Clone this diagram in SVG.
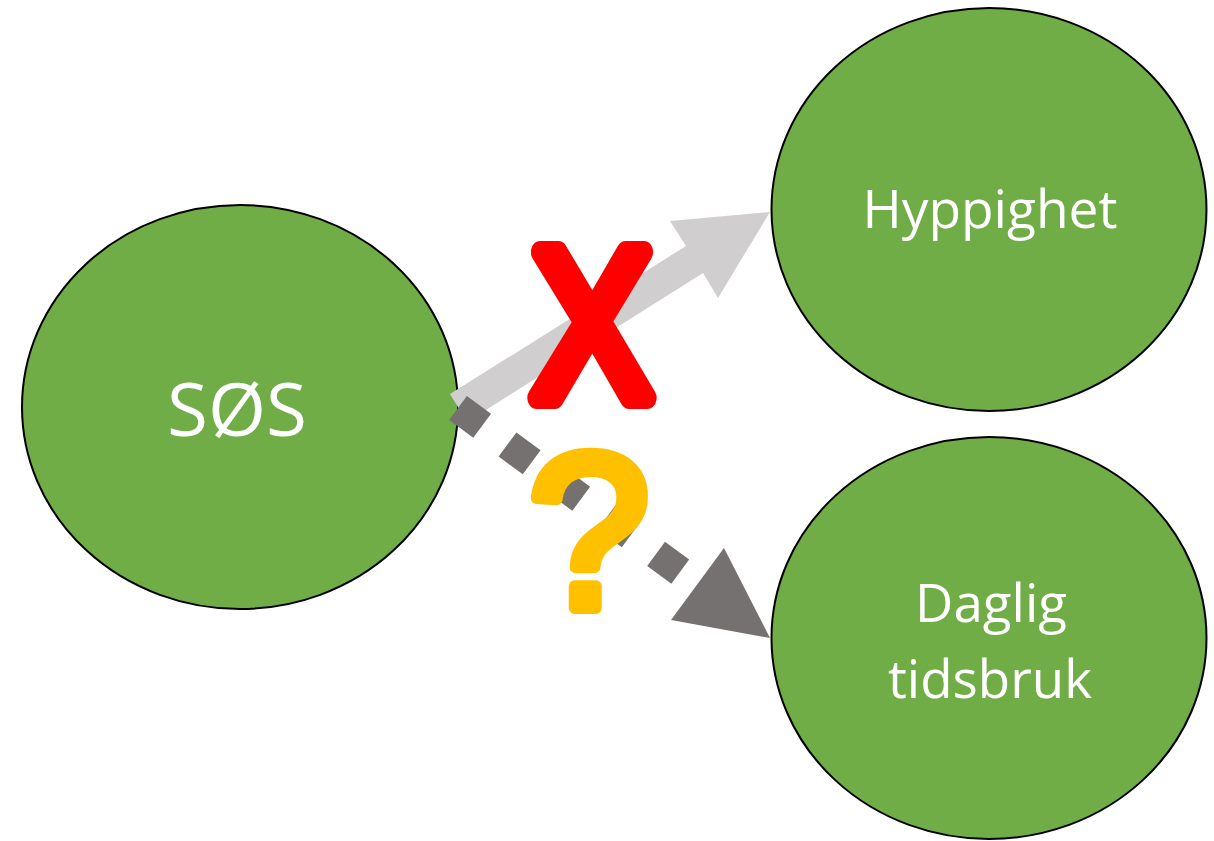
<svg xmlns="http://www.w3.org/2000/svg" width="1214" height="841" viewBox="0 0 1214 841">
  <style>
    .node { fill: #70AD47; stroke: #000000; stroke-width: 2; }
    .label { fill: #FFFFFF; font-family: "Open Sans", "Noto Sans", "Liberation Sans", sans-serif; text-anchor: middle; }
    .mark { font-family: "Liberation Sans", Arial, sans-serif; text-anchor: middle; stroke-linejoin: round; }
  </style>
  <rect x="0" y="0" width="1214" height="841" fill="#FFFFFF"/>
  <g id="node-sos">
    <ellipse class="node" cx="240" cy="407" rx="218" ry="202"/>
    <text class="label" x="237" y="436" font-size="74" textLength="140" lengthAdjust="spacingAndGlyphs">SØS</text>
  </g>
  <g id="node-hyppighet">
    <ellipse class="node" cx="989" cy="209.5" rx="217.5" ry="201.5"/>
    <text class="label" x="990" y="228" font-size="53" textLength="255" lengthAdjust="spacingAndGlyphs">Hyppighet</text>
  </g>
  <g id="node-daglig">
    <ellipse class="node" cx="989" cy="638" rx="217.5" ry="201"/>
    <text class="label" x="991" y="622" font-size="53" textLength="152" lengthAdjust="spacingAndGlyphs">Daglig</text>
    <text class="label" x="990" y="698" font-size="53" textLength="204" lengthAdjust="spacingAndGlyphs">tidsbruk</text>
  </g>
  <g id="connectors">
    <polygon points="450,394 686,246 670,221 770,212 718,298 703,273 467,422" fill="#D0CECE"/>
    <line x1="458" y1="408" x2="697" y2="584" stroke="#767171" stroke-width="30" stroke-dasharray="30 31.5"/>
    <polygon points="724,548 770,638 671,620" fill="#767171"/>
  </g>
  <g id="marks">
    <text class="mark" transform="translate(592,409) scale(0.84,1)" x="0" y="-11" font-size="212" fill="#FF0000" stroke="#FF0000" stroke-width="22">X</text>
    <text class="mark" x="589" y="608" font-size="220" fill="#FFC000" stroke="#FFC000" stroke-width="12">?</text>
  </g>
</svg>
